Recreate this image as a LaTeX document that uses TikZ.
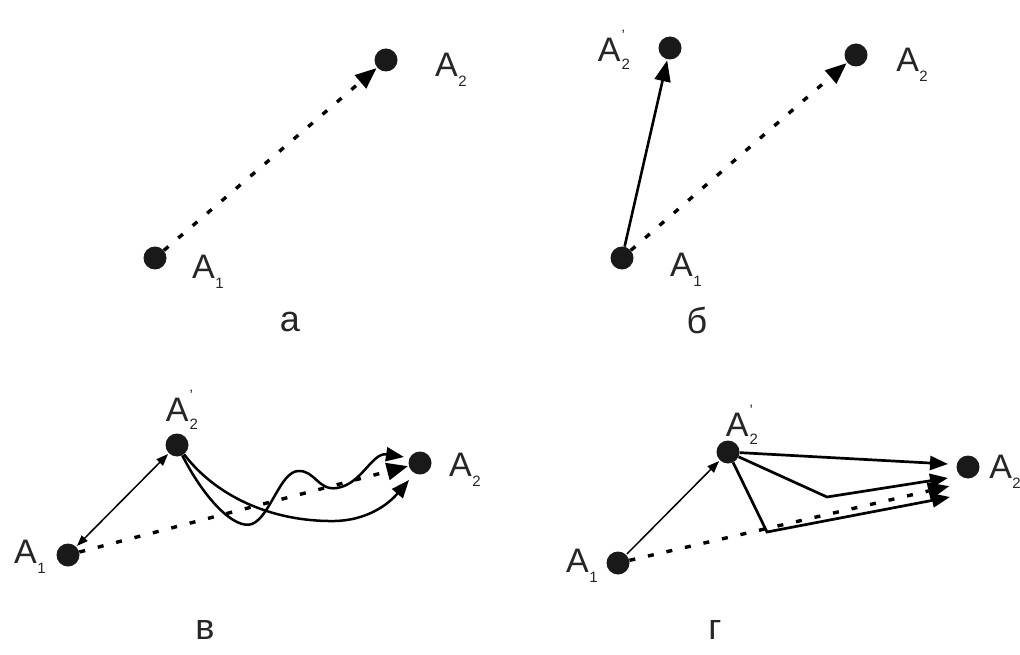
\documentclass[tikz,border=0pt]{standalone}
\usepackage{fontspec}
\setmainfont{Liberation Sans}
\usetikzlibrary{arrows.meta}
\newcommand{\Asub}[1]{A\kern0.5pt\raisebox{-0.3em}{\fontsize{15}{15}\selectfont #1}}
\newcommand{\Aprm}{A\kern1pt\rlap{\raisebox{0.62em}{\fontsize{15}{15}\selectfont '}}\raisebox{-0.22em}{\fontsize{15}{15}\selectfont 2}}
\tikzset{
  pt/.style={circle,fill=black!90,inner sep=0pt,minimum size=23pt},
  lbl/.style={font=\fontsize{34}{36}\selectfont,inner sep=0pt,text=black!85},
  panellbl/.style={font=\fontsize{36}{38}\selectfont,inner sep=0pt,text=black!85},
  dotline/.style={line width=3.4pt,dash pattern=on 6pt off 13pt,shorten >=1pt,
     -{Triangle[length=21pt,width=18pt,line width=0pt]}},
  boldarr/.style={line width=2.6pt,shorten >=1pt,-{Triangle[length=21pt,width=16pt]}},
  thinarr/.style={line width=1.5pt,shorten >=1pt,shorten <=1pt},
  pathline/.style={line width=2.7pt,line join=miter,-{Triangle[length=18pt,width=14pt]}},
}
\begin{document}
\begin{tikzpicture}[x=1pt,y=-1pt]
\useasboundingbox (0,0) rectangle (1020,655);
\fill[white] (0,0) rectangle (1020,655);
% panel a
\node[pt] (a1) at (155,258) {};
\node[pt] (a2) at (386,60) {};
\node[lbl] (la1) at (208,272) {\Asub{1}};
\node[lbl] (la2) at (451,70) {\Asub{2}};
\draw[dotline] (a1) -- (a2);
\node[panellbl] (ca) at (290,322) {а};
% panel b
\node[pt] (b1) at (622,258) {};
\node[pt] (b2p) at (670,48) {};
\node[pt] (b2) at (856,55) {};
\node[lbl] (lb1) at (686,270) {\Asub{1}};
\node[lbl] (lb2p) at (614,50) {\Aprm};
\node[lbl] (lb2) at (912,65) {\Asub{2}};
\draw[dotline] (b1) -- (b2);
\draw[boldarr] (b1) -- (b2p);
\node[panellbl] (cb) at (697,320) {б};
% panel v
\node[pt] (v1) at (68,555) {};
\node[pt] (v2p) at (177,445) {};
\node[pt] (v2) at (420,463) {};
\node[lbl] (lv1) at (30,557) {\Asub{1}};
\node[lbl] (lv2p) at (182,410) {\Aprm};
\node[lbl] (lv2) at (465,470) {\Asub{2}};
\draw[dotline] (v1) -- (v2);
\draw[thinarr,{Triangle[length=11pt,width=8pt]}-{Triangle[length=12pt,width=9pt]}] (v1) -- (v2p);
\draw[pathline,line width=2.5pt] (v2p) .. controls (205,500) and (235,530) .. (252,524)
  .. controls (270,517) and (280,472) .. (298,471)
  .. controls (315,470) and (318,491) .. (337,488)
  .. controls (362,484) and (372,452) .. (404,457);
\draw[pathline,line width=2.5pt] (v2p) .. controls (215,495) and (270,522) .. (335,521)
  .. controls (372,520) and (392,500) .. (409,480);
\node[panellbl] (cv) at (205,630) {в};
% panel g
\node[pt] (g1) at (618,563) {};
\node[pt] (g2p) at (728,452) {};
\node[pt] (g2) at (968,467) {};
\node[lbl] (lg1) at (582,566) {\Asub{1}};
\node[lbl] (lg2p) at (742,425) {\Aprm};
\node[lbl] (lg2) at (1005,472) {\Asub{2}};
\coordinate (gk1) at (827,497);
\coordinate (gk2) at (767,532);
\coordinate (ge1) at (948,464);
\coordinate (ge2) at (948,478);
\coordinate (ge3) at (950,497);
\coordinate (ge4) at (950,486);
\draw[dotline] (g1) -- (ge4);
\draw[thinarr,-{Triangle[length=12pt,width=9pt]}] (g1) -- (g2p);
\draw[pathline] (g2p) -- (ge1);
\draw[pathline] (g2p) -- (gk1) -- (ge2);
\draw[pathline] (g2p) -- (gk2) -- (ge3);
\node[panellbl] (cg) at (715,630) {г};
\end{tikzpicture}
\end{document}
